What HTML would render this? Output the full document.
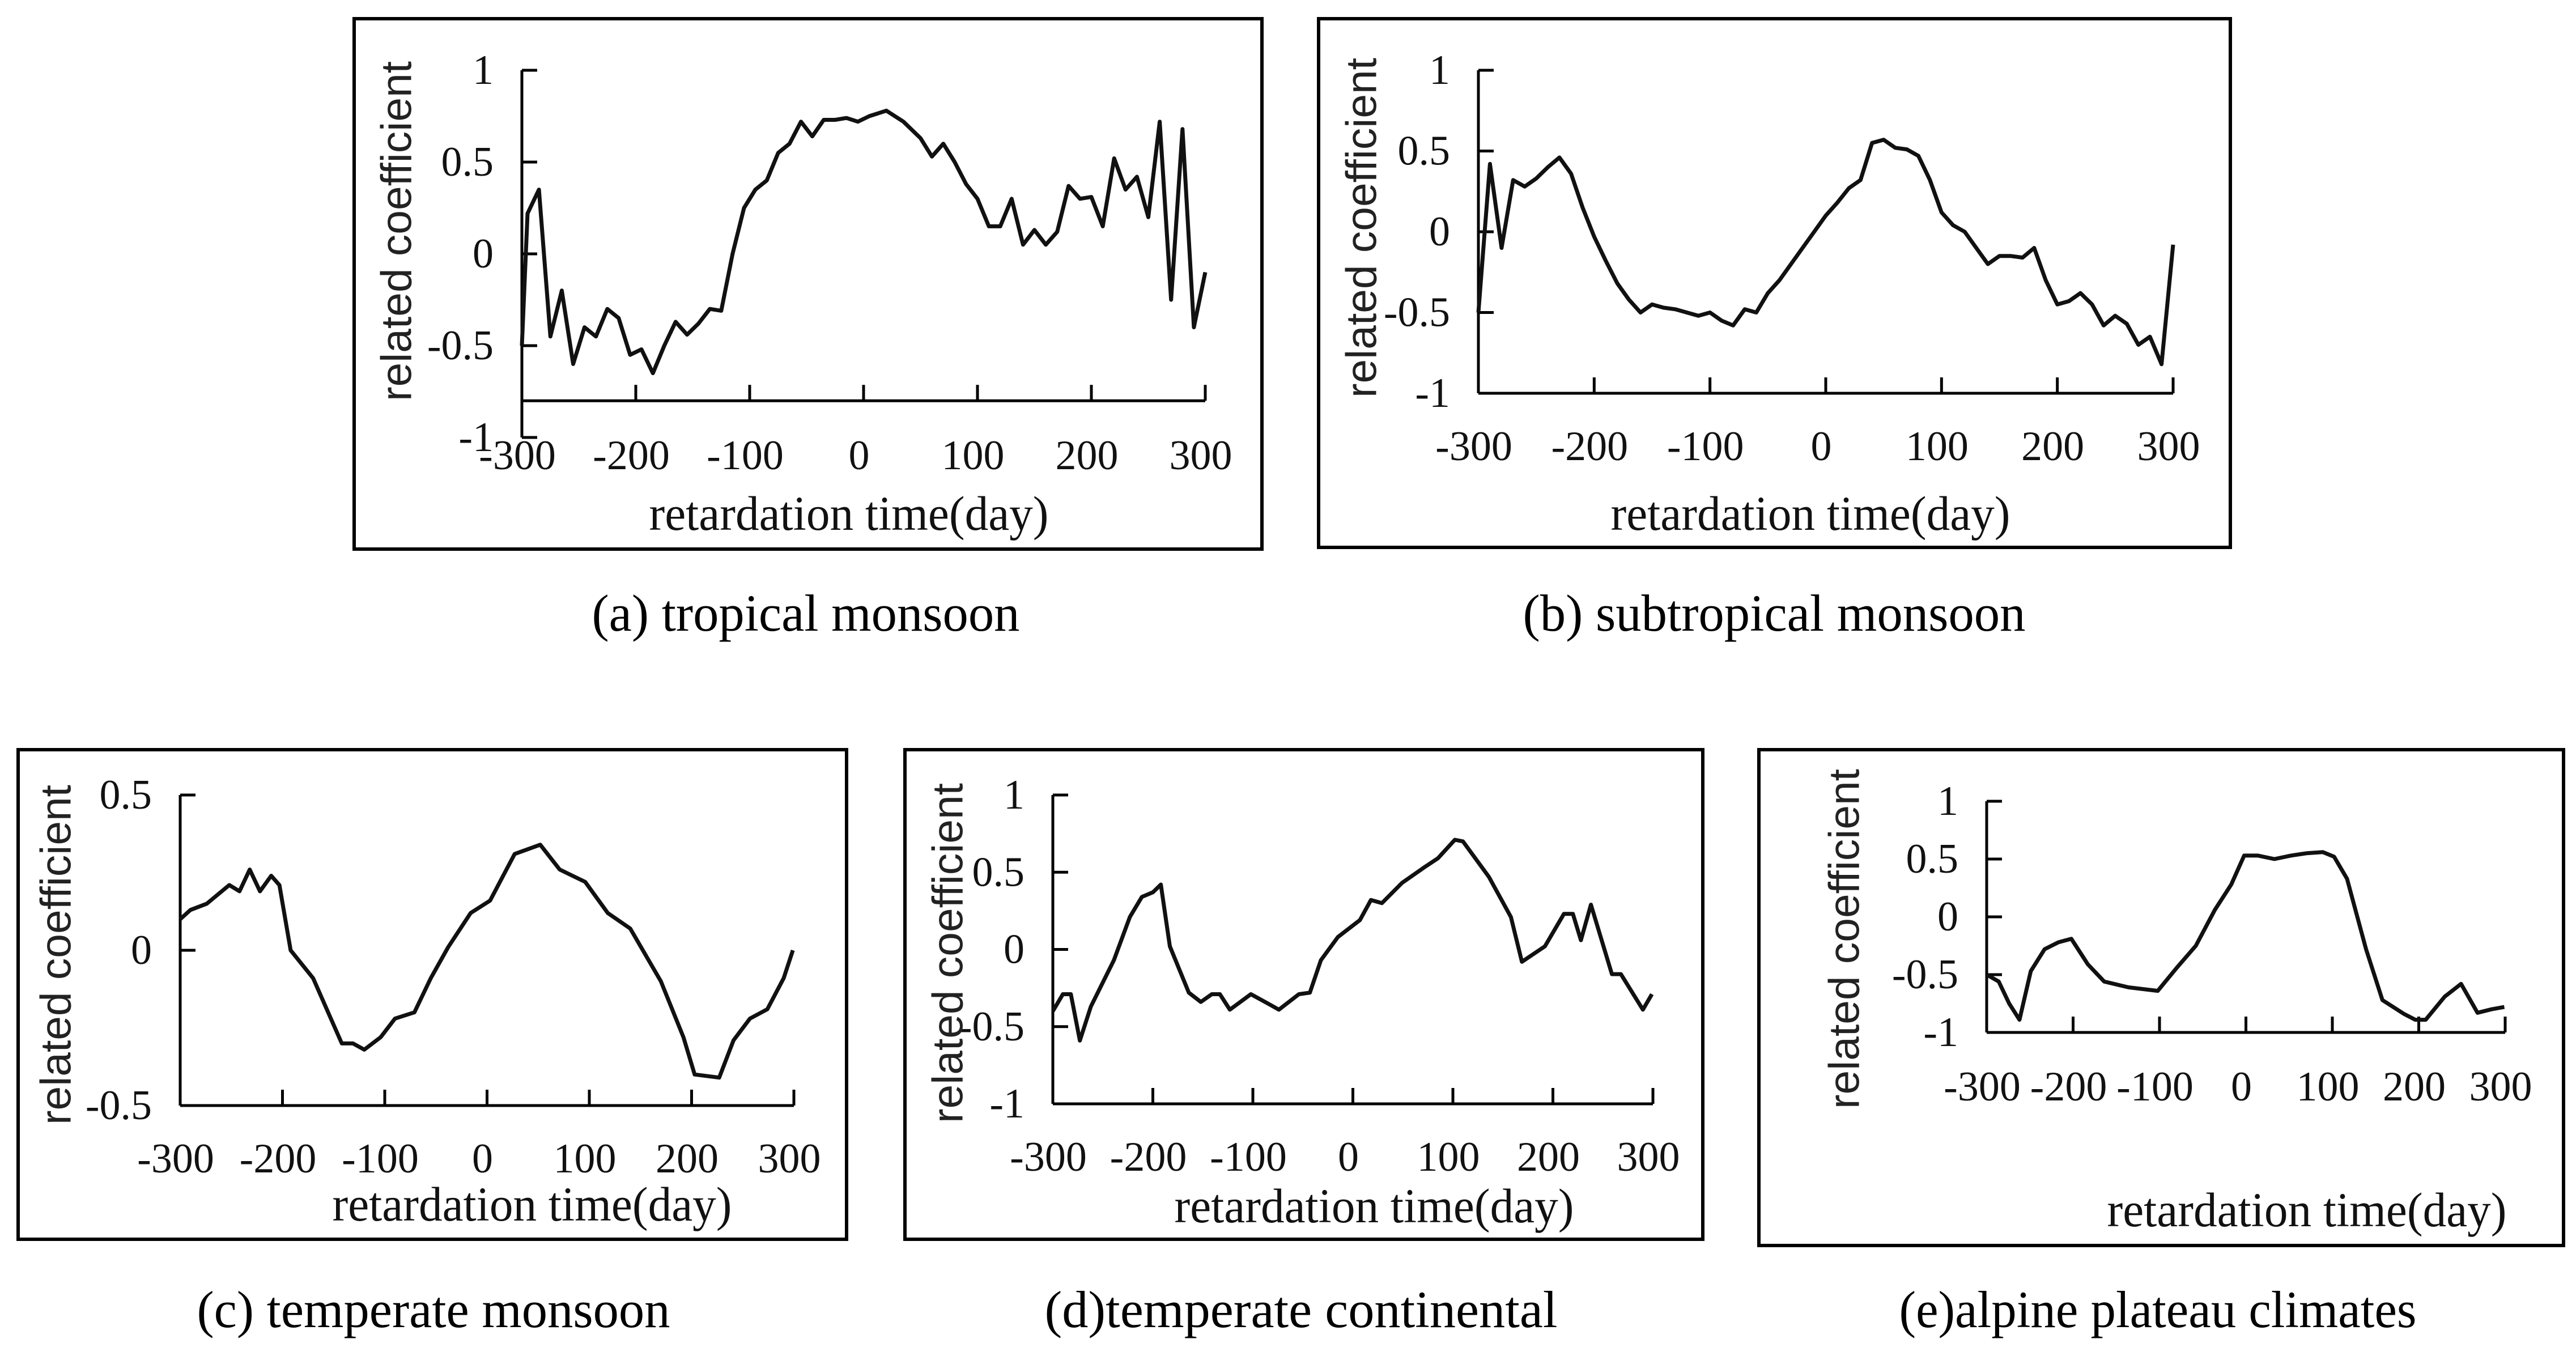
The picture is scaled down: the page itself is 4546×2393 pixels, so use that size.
<!DOCTYPE html>
<html><head><meta charset="utf-8"><style>
html,body{margin:0;padding:0;background:#fff;}
svg{display:block;}
.tk{font-family:"Liberation Serif",serif;font-size:74px;fill:#111;}
.ttl{font-family:"Liberation Serif",serif;font-size:86px;fill:#111;}
.yl{font-family:"Liberation Sans",sans-serif;font-size:76px;fill:#222;}
.cap{font-family:"Liberation Serif",serif;font-size:92px;fill:#000;}
</style></head><body>
<svg id="fig" width="4546" height="2393" viewBox="0 0 4546 2393" xmlns="http://www.w3.org/2000/svg">
<rect width="4546" height="2393" fill="#fff"/>
<text class="cap" x="1422" y="1113" text-anchor="middle" textLength="755" lengthAdjust="spacingAndGlyphs">(a) tropical monsoon</text>
<text class="cap" x="3131" y="1113" text-anchor="middle" textLength="887" lengthAdjust="spacingAndGlyphs">(b) subtropical monsoon</text>
<text class="cap" x="765" y="2342" text-anchor="middle" textLength="835" lengthAdjust="spacingAndGlyphs">(c) temperate monsoon</text>
<text class="cap" x="2296" y="2342" text-anchor="middle" textLength="905" lengthAdjust="spacingAndGlyphs">(d)temperate continental</text>
<text class="cap" x="3808" y="2342" text-anchor="middle" textLength="913" lengthAdjust="spacingAndGlyphs">(e)alpine plateau climates</text>
</svg>
<script>
const xTicks = [-300,-200,-100,0,100,200,300];
const yTicksFull = [1,0.5,0,-0.5,-1];
const yTicksC = [0.5,0,-0.5];

const aX = [-300,-295,-285,-275,-265,-255,-245,-235,-225,-215,-205,-195,-185,-175,-165,-155,-145,-135,-125,-115,-105,-95,-85,-75,-65,-55,-45,-35,-25,-15,-5,5,20,35,50,60,70,80,90,100,110,120,130,140,150,160,170,180,190,200,210,220,230,240,250,260,270,280,290,300];
const aY = [-0.5,0.22,0.35,-0.45,-0.2,-0.6,-0.4,-0.45,-0.3,-0.35,-0.55,-0.52,-0.65,-0.5,-0.37,-0.44,-0.38,-0.3,-0.31,0.0,0.25,0.35,0.4,0.55,0.6,0.72,0.64,0.73,0.73,0.74,0.72,0.75,0.78,0.72,0.63,0.53,0.6,0.5,0.38,0.3,0.15,0.15,0.3,0.05,0.13,0.05,0.12,0.37,0.3,0.31,0.15,0.52,0.35,0.42,0.2,0.72,-0.25,0.68,-0.4,-0.1];

const bX = [-300,-290,-280,-270,-260,-250,-240,-230,-220,-210,-200,-190,-180,-170,-160,-150,-140,-130,-120,-110,-100,-90,-80,-70,-60,-50,-40,-30,-20,-10,0,10,20,30,40,50,60,70,80,90,100,110,120,130,140,150,160,170,180,190,200,210,220,230,240,250,260,270,280,290,300];
const bY = [-0.5,0.42,-0.1,0.32,0.28,0.33,0.4,0.46,0.36,0.15,-0.03,-0.18,-0.32,-0.42,-0.5,-0.45,-0.47,-0.48,-0.5,-0.52,-0.5,-0.55,-0.58,-0.48,-0.5,-0.38,-0.3,-0.2,-0.1,0.0,0.1,0.18,0.27,0.32,0.55,0.57,0.52,0.51,0.47,0.32,0.12,0.04,0.0,-0.1,-0.2,-0.15,-0.15,-0.16,-0.1,-0.3,-0.45,-0.43,-0.38,-0.45,-0.58,-0.52,-0.57,-0.7,-0.65,-0.82,-0.08];

const cX = [-300,-290,-274,-252,-242,-232,-222,-211,-203,-192,-170,-154,-142,-131,-120,-104,-90,-71,-55,-38,-16,3,27,52,71,96,118,140,170,192,203,227,241,257,274,290,299];
const cY = [0.1,0.13,0.15,0.21,0.19,0.26,0.19,0.24,0.21,0.0,-0.09,-0.21,-0.3,-0.3,-0.32,-0.28,-0.22,-0.2,-0.09,0.01,0.12,0.16,0.31,0.34,0.26,0.22,0.12,0.07,-0.1,-0.28,-0.4,-0.41,-0.29,-0.22,-0.19,-0.09,0.0];

const dX = [-300,-290,-282,-273,-262,-239,-223,-211,-200,-192,-183,-164,-152,-141,-133,-123,-102,-85,-74,-54,-43,-32,-15,7,18,29,49,71,85,102,110,136,158,169,192,211,220,228,238,259,268,290,299];
const dY = [-0.4,-0.29,-0.29,-0.59,-0.37,-0.07,0.21,0.34,0.37,0.42,0.02,-0.28,-0.34,-0.29,-0.29,-0.39,-0.29,-0.35,-0.39,-0.29,-0.28,-0.07,0.08,0.19,0.32,0.3,0.43,0.53,0.59,0.71,0.7,0.47,0.21,-0.08,0.02,0.23,0.23,0.06,0.29,-0.16,-0.16,-0.39,-0.29];

const eX = [-300,-286,-274,-262,-249,-233,-217,-202,-183,-164,-136,-102,-80,-58,-36,-17,-2,14,33,52,70,89,102,117,139,158,183,196,208,230,249,268,284,299];
const eY = [-0.5,-0.56,-0.75,-0.89,-0.47,-0.28,-0.22,-0.19,-0.41,-0.56,-0.61,-0.64,-0.44,-0.25,0.06,0.28,0.53,0.53,0.5,0.53,0.55,0.56,0.52,0.33,-0.28,-0.72,-0.84,-0.89,-0.89,-0.69,-0.58,-0.83,-0.8,-0.78];

const NS = "http://www.w3.org/2000/svg";
const svg = document.getElementById('fig');
function mk(tag, attrs, parent){ const e=document.createElementNS(NS,tag); for(const k in attrs) e.setAttribute(k,attrs[k]); (parent||svg).appendChild(e); return e; }

function panel(id, cfg, xs, ys, yTicks){
  const g = mk('g',{});
  
  
  const fr = mk('rect',{x:cfg.box[0],y:cfg.box[1],width:cfg.box[2]-cfg.box[0],height:cfg.box[3]-cfg.box[1],fill:'none',stroke:'#000','stroke-width':6},g);
  
  
  const sx = v => cfg.x0 + (v - (-300)) / 600 * (cfg.x1 - cfg.x0);
  const sy = v => cfg.yT + (cfg.vT - v) / (cfg.vT - cfg.vB) * (cfg.yB - cfg.yT);
  const axY = sy(cfg.xAxisAt);
  const ya = mk('line',{x1:cfg.x0,y1:sy(cfg.vT),x2:cfg.x0,y2:sy(cfg.vB),stroke:'#000','stroke-width':5},g);
  
  
  yTicks.forEach(v=>{
    const t = mk('line',{x1:cfg.x0,y1:sy(v),x2:cfg.x0+27,y2:sy(v),stroke:'#000','stroke-width':5},g);
    
    
    const l = mk('text',{x:cfg.x0-50,y:sy(v),'text-anchor':'end','dominant-baseline':'central',class:'tk'},g);
    l.textContent = String(v);
    
    
  });
  const xa = mk('line',{x1:cfg.x0,y1:axY,x2:cfg.x1,y2:axY,stroke:'#000','stroke-width':5},g);
  
  
  xTicks.forEach(v=>{
    const t = mk('line',{x1:sx(v),y1:axY,x2:sx(v),y2:axY-28,stroke:'#000','stroke-width':5},g);
    
    
    const l = mk('text',{x:sx(v)-8,y:cfg.xlY,'text-anchor':'middle','dominant-baseline':'central',class:'tk'},g);
    l.textContent = String(v);
    
    
  });
  const tt = mk('text',{x:cfg.title[0],y:cfg.title[1],'text-anchor':'middle','dominant-baseline':'central',class:'ttl',textLength:705,lengthAdjust:'spacingAndGlyphs'},g);
  tt.textContent = 'retardation time(day)';
  
  
  const yl = mk('text',{x:0,y:0,transform:'translate('+cfg.ylab[0]+','+cfg.ylab[1]+') rotate(-90)','text-anchor':'middle','dominant-baseline':'central',class:'yl',textLength:600,lengthAdjust:'spacingAndGlyphs'},g);
  yl.textContent = 'related coefficient';
  
  
  const d = xs.map((x,i)=>(i?'L':'M')+sx(x).toFixed(1)+' '+sy(ys[i]).toFixed(1)).join(' ');
  const p = mk('path',{d:d,fill:'none',stroke:'#111','stroke-width':7,'stroke-linejoin':'round'},g);
  
  
}

panel('a',{box:[625,33,2227,969],x0:921,x1:2127,yT:124,yB:772,vT:1,vB:-1,xAxisAt:-0.8,xlY:804,title:[1498,906],ylab:[700,408]},aX,aY,yTicksFull);
panel('b',{box:[2327,33,3936,966],x0:2609,x1:3835,yT:124,yB:694,vT:1,vB:-1,xAxisAt:-1,xlY:788,title:[3195,906],ylab:[2403,402]},bX,bY,yTicksFull);
panel('c',{box:[32,1323,1494,2187],x0:318,x1:1401,yT:1403,yB:1951,vT:0.5,vB:-0.5,xAxisAt:-0.5,xlY:2045,title:[939,2125],ylab:[99,1685]},cX,cY,yTicksC);
panel('d',{box:[1597,1323,3005,2187],x0:1858,x1:2917,yT:1403,yB:1948,vT:1,vB:-1,xAxisAt:-1,xlY:2042,title:[2425,2128],ylab:[1673,1682]},dX,dY,yTicksFull);
panel('e',{box:[3104,1323,4524,2198],x0:3506,x1:4421,yT:1414,yB:1822,vT:1,vB:-1,xAxisAt:-1,xlY:1918,title:[4071,2135],ylab:[3255,1657]},eX,eY,yTicksFull);
</script>
</body></html>
